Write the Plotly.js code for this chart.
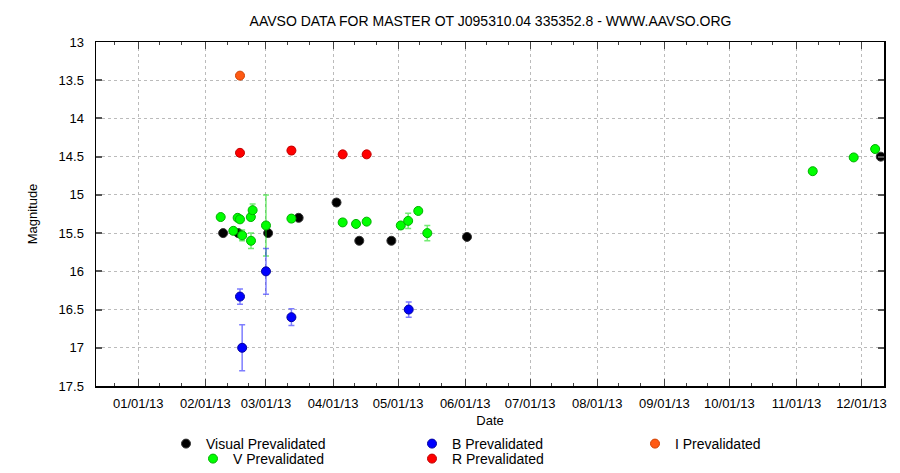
<!DOCTYPE html>
<html>
<head>
<meta charset="utf-8">
<script src="https://cdn.plot.ly/plotly-3.0.1.min.js"></script>
<style>html,body{margin:0;padding:0;background:#fff;}#chart{width:900px;height:473px;}</style>
</head>
<body>
<div id="chart"></div>
<script>
// ---- data ----
const visualDates = ['2013-02-09 05:00','2013-02-16 05:00','2013-03-02 00:00','2013-03-16 02:00','2013-04-02 14:00','2013-04-13 02:00','2013-04-27 22:00','2013-06-01 20:00','2013-12-09 22:00'];
const visualMags  = [15.50, 15.50, 15.50, 15.30, 15.10, 15.60, 15.60, 15.55, 14.50];

const vDates = ['2013-02-08 02:00','2013-02-13 22:00','2013-02-15 22:00','2013-02-17 00:00','2013-02-18 00:00','2013-02-22 00:00','2013-02-22 20:00','2013-02-22 02:00','2013-03-01 00:00','2013-03-12 18:00','2013-04-05 10:00','2013-04-11 14:00','2013-04-16 12:00','2013-05-02 06:00','2013-05-05 16:00','2013-05-10 08:00','2013-05-14 12:00','2013-11-08 12:00','2013-11-27 10:00','2013-12-07 08:00'];
const vMags  = [15.29, 15.47, 15.30, 15.32, 15.53, 15.29, 15.20, 15.60, 15.40, 15.31, 15.36, 15.38, 15.35, 15.40, 15.34, 15.21, 15.50, 14.69, 14.51, 14.40];
const vErr   = [0.02, 0.04, 0.02, 0.02, 0.07, 0.04, 0.08, 0.10, 0.40, 0.04, 0.04, 0.02, 0.03, 0.02, 0.10, 0.02, 0.10, 0.02, 0.02, 0.02];

const bDates = ['2013-02-17 00:00','2013-02-18 00:00','2013-03-01 00:00','2013-03-12 18:00','2013-05-05 22:00'];
const bMags  = [16.33, 17.00, 16.00, 16.60, 16.50];
const bErr   = [0.10, 0.30, 0.30, 0.11, 0.10];

const rDates = ['2013-02-17 00:00','2013-03-12 18:00','2013-04-05 10:00','2013-04-16 12:00'];
const rMags  = [14.45, 14.42, 14.47, 14.47];
const rErr   = [0.03, 0.05, 0.04, 0.04];

const iDates = ['2013-02-17 00:00'];
const iMags  = [13.44];

const monthTicks = ['2013-01-01','2013-02-01','2013-03-01','2013-04-01','2013-05-01','2013-06-01','2013-07-01','2013-08-01','2013-09-01','2013-10-01','2013-11-01','2013-12-01'];
const minorTicks = ['2012-12-21','2013-01-11','2013-01-21','2013-02-11','2013-02-21','2013-03-11','2013-03-21','2013-04-11','2013-04-21','2013-05-11','2013-05-21','2013-06-11','2013-06-21','2013-07-11','2013-07-21','2013-08-11','2013-08-21','2013-09-11','2013-09-21','2013-10-11','2013-10-21','2013-11-11','2013-11-21','2013-12-11'];
const yTicks = [13, 13.5, 14, 14.5, 15, 15.5, 16, 16.5, 17, 17.5];

// ---- chart ----
const FONT = 'Liberation Sans, Arial, Helvetica, sans-serif';
function mk(color, line) {
  return {symbol: 'circle', size: 9, color: color, line: {color: line, width: 1}};
}
function eb(arr, color) {
  return {type: 'data', array: arr, visible: true, color: color, thickness: 1.5, width: 3};
}
function lg(xpx, ypx) {
  return {orientation: 'h', xref: 'container', yref: 'container',
          x: xpx / 900, xanchor: 'left', y: 1 - ypx / 473, yanchor: 'middle',
          font: {family: FONT, size: 14, color: '#000'}, bgcolor: 'rgba(0,0,0,0)'};
}

const traces = [
  {x: visualDates, y: visualMags, name: 'Visual Prevalidated', type: 'scatter', mode: 'markers',
   marker: mk('#000000', '#333333'), legend: 'legend'},
  {x: vDates, y: vMags, name: 'V Prevalidated', type: 'scatter', mode: 'markers',
   marker: mk('#00ff00', '#00b000'), error_y: eb(vErr, 'rgba(0,220,0,0.55)'), legend: 'legend2'},
  {x: bDates, y: bMags, name: 'B Prevalidated', type: 'scatter', mode: 'markers',
   marker: mk('#0000ff', '#0000a0'), error_y: eb(bErr, 'rgba(40,40,255,0.6)'), legend: 'legend3'},
  {x: rDates, y: rMags, name: 'R Prevalidated', type: 'scatter', mode: 'markers',
   marker: mk('#ff0000', '#c00000'), error_y: eb(rErr, 'rgba(255,0,0,0.5)'), legend: 'legend4'},
  {x: iDates, y: iMags, name: 'I Prevalidated', type: 'scatter', mode: 'markers',
   marker: mk('#ff5a14', '#d04000'), legend: 'legend5'}
];

const layout = {
  width: 900, height: 473,
  margin: {l: 96, r: 16, t: 42, b: 87},
  paper_bgcolor: '#ffffff', plot_bgcolor: '#ffffff',
  font: {family: FONT, size: 13, color: '#000'},
  title: {text: 'AAVSO DATA FOR MASTER OT J095310.04 335352.8 - WWW.AAVSO.ORG',
          font: {family: FONT, size: 14, color: '#000'}, x: 0.545, xanchor: 'center', y: 0.955, yanchor: 'middle'},
  showlegend: true,
  legend: lg(166, 444),
  legend2: lg(193, 459),
  legend3: lg(412, 444),
  legend4: lg(412, 459),
  legend5: lg(635, 444),
  xaxis: {
    type: 'date', range: ['2012-12-12 12:00', '2013-12-11 10:00'],
    tickmode: 'array', tickvals: monthTicks, tickformat: '%m/%d/%y',
    ticks: 'inside', ticklen: 7, tickwidth: 1, tickcolor: '#444',
    showline: true, linecolor: '#000', linewidth: 1.5, mirror: 'allticks',
    showgrid: true, gridcolor: '#bbbbbb', gridwidth: 1, griddash: 'dot',
    zeroline: false, ticklabelstandoff: 5,
    minor: {tickmode: 'array', tickvals: minorTicks, ticks: 'inside', ticklen: 3, tickcolor: '#444', showgrid: false},
    title: {text: 'Date', font: {family: FONT, size: 13}, standoff: 9},
    tickfont: {family: FONT, size: 13},
    automargin: false
  },
  yaxis: {
    range: [17.5, 13], tickmode: 'array', tickvals: yTicks,
    ticks: 'inside', ticklen: 6, tickwidth: 2, tickcolor: '#555',
    showline: true, linecolor: '#000', linewidth: 1.5, mirror: 'allticks',
    showgrid: true, gridcolor: '#bbbbbb', gridwidth: 1, griddash: 'dot',
    zeroline: false, ticklabelstandoff: 8,
    title: {text: 'Magnitude', font: {family: FONT, size: 13}, standoff: 18},
    tickfont: {family: FONT, size: 13},
    automargin: false
  }
};

Plotly.newPlot('chart', traces, layout, {displayModeBar: false, staticPlot: true});
</script>
</body>
</html>
